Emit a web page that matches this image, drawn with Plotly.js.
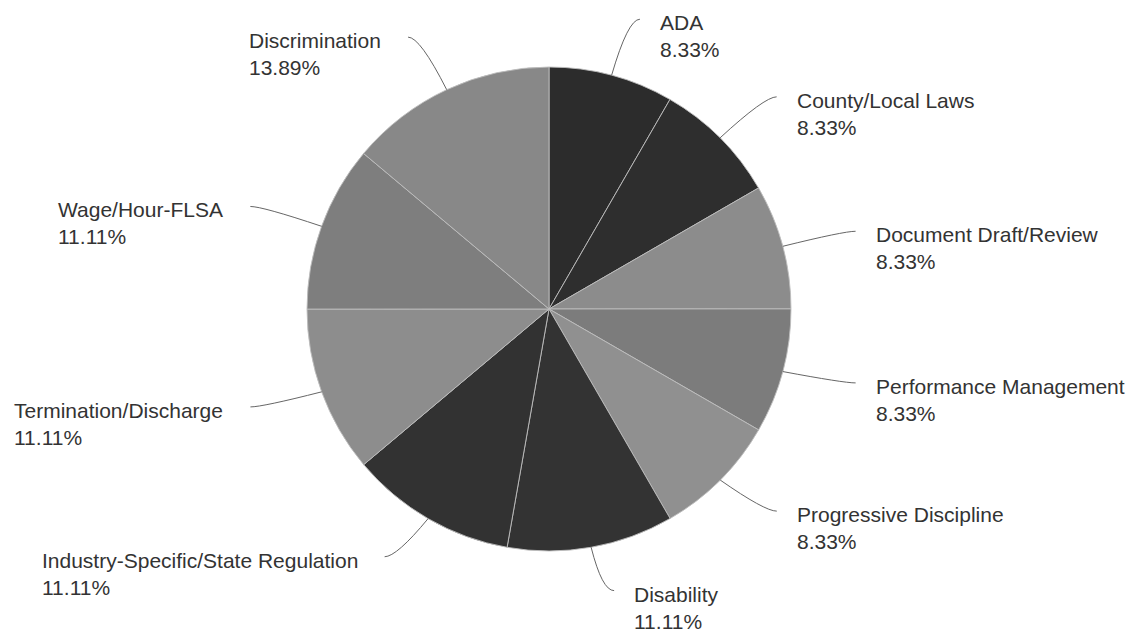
<!DOCTYPE html>
<html>
<head>
<meta charset="utf-8">
<script src="https://cdn.plot.ly/plotly-3.0.1.min.js"></script>
<style>html,body{margin:0;padding:0;background:#fff;}#chart{width:1138px;height:640px;}</style>
</head>
<body>
<div id="chart"></div>
<script>
// ---- data ----
const labels = ['ADA', 'County/Local Laws', 'Document Draft/Review', 'Performance Management',
  'Progressive Discipline', 'Disability', 'Industry-Specific/State Regulation',
  'Termination/Discharge', 'Wage/Hour-FLSA', 'Discrimination'];
const percents = [8.33, 8.33, 8.33, 8.33, 8.33, 11.11, 11.11, 11.11, 11.11, 13.89];
const percentLabels = ['8.33%', '8.33%', '8.33%', '8.33%', '8.33%', '11.11%', '11.11%', '11.11%', '11.11%', '13.89%'];
const sliceColors = ['#2c2c2c', '#2e2e2e', '#8c8c8c', '#7c7c7c', '#909090',
  '#333333', '#323232', '#8d8d8d', '#7e7e7e', '#888888'];

// ---- geometry / style ----
const W = 1138, H = 640;
const CX = 549, CY = 309, R = 242;     // pie centre and radius in px
const RX_ELBOW = 305;                   // leader elbow radii
const RY_ELBOW_TOP = 300, RY_ELBOW_BOTTOM = 286;
const HOOK = 12;
const px2x = x => x / W;
const px2y = y => 1 - y / H;

const total = percents.reduce((a, b) => a + b, 0);
const shapes = [];
const annotations = [];
let cum = 0;
percents.forEach((v, i) => {
  const mid = (cum + v / 2) / total * 2 * Math.PI; // clockwise from 12 o'clock
  cum += v;
  const s = Math.sin(mid), c = Math.cos(mid);
  const right = s >= 0;
  const ry = c > 0 ? RY_ELBOW_TOP : RY_ELBOW_BOTTOM;
  const x0 = CX + R * s, y0 = CY - R * c;
  const cx = CX + RX_ELBOW * s, cy = CY - ry * c;
  const ex = cx + (right ? HOOK : -HOOK), ey = cy;
  shapes.push({
    type: 'path', xref: 'paper', yref: 'paper',
    path: `M ${px2x(x0)} ${px2y(y0)} Q ${px2x(cx)} ${px2y(cy)} ${px2x(ex)} ${px2y(ey)}`,
    line: {color: '#666666', width: 1}
  });
  annotations.push({
    xref: 'paper', yref: 'paper', showarrow: false,
    x: px2x(right ? ex + 18 : ex - 25), y: px2y(ey + 17),
    xanchor: right ? 'left' : 'right', yanchor: 'middle', align: 'left',
    text: labels[i] + '<br>' + percentLabels[i],
    font: {family: 'Liberation Sans, Arial, sans-serif', size: 21, color: '#333333'}
  });
});

const trace = {
  type: 'pie',
  labels: labels,
  values: percents,
  sort: false,
  direction: 'clockwise',
  rotation: 0,
  textinfo: 'none',
  hoverinfo: 'label+percent',
  marker: {colors: sliceColors, line: {color: 'rgba(190,190,190,0.9)', width: 1}},
  domain: {x: [(CX - R) / W, (CX + R) / W], y: [1 - (CY + R) / H, 1 - (CY - R) / H]}
};

Plotly.newPlot('chart', [trace], {
  width: W, height: H,
  margin: {l: 0, r: 0, t: 0, b: 0},
  showlegend: false,
  paper_bgcolor: '#ffffff',
  shapes: shapes,
  annotations: annotations
}, {displayModeBar: false});
</script>
</body>
</html>
